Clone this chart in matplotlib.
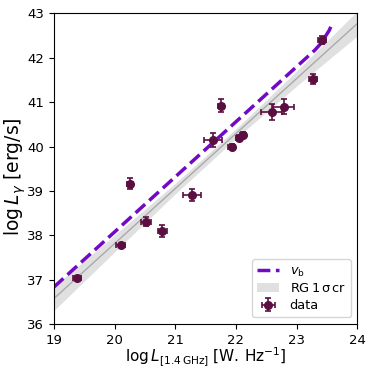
import numpy as np
import matplotlib
matplotlib.use("Agg")
import matplotlib.pyplot as plt

# data points
x_data = [19.38, 20.10, 20.25, 20.52, 20.79, 21.28, 21.62, 21.76, 21.93, 22.05, 22.12, 22.59, 22.79, 23.27, 23.42]
y_data = [37.04, 37.77, 39.16, 38.30, 38.10, 38.91, 40.15, 40.92, 40.00, 40.20, 40.27, 40.77, 40.90, 41.53, 42.40]
x_err = [0.07, 0.07, 0.05, 0.08, 0.07, 0.15, 0.15, 0.05, 0.06, 0.05, 0.05, 0.17, 0.17, 0.07, 0.07]
y_err = [0.04, 0.03, 0.12, 0.10, 0.13, 0.14, 0.16, 0.14, 0.06, 0.06, 0.06, 0.18, 0.17, 0.11, 0.09]

# v_b curve
x_vb = [19.0, 23.30, 23.40, 23.47, 23.54, 23.59]
y_vb = [36.83, 42.17, 42.32, 42.47, 42.62, 42.78]

# regression band
x_rg = [19, 20, 21, 22, 23, 24]
y_rg = [36.57, 37.81, 39.05, 40.29, 41.53, 42.77]
hw_rg = [0.27, 0.19, 0.12, 0.11, 0.17, 0.28]

col_data = '#5b0e40'
col_vb = '#7209c4'

fig = plt.figure(figsize=(3.74, 3.74), dpi=100)
ax = fig.add_axes([0.144, 0.134, 0.811, 0.830])

y_rg_a = np.array(y_rg)
hw_a = np.array(hw_rg)
ax.fill_between(x_rg, y_rg_a - hw_a, y_rg_a + hw_a, color='#d9d9d9', alpha=0.8,
                lw=0, label=r'$\rm RG\,1\,\sigma\,cr$')
ax.plot(x_rg, y_rg, color='#aaaaaa', lw=1.0)
ax.plot(x_vb, y_vb, ls='--', color=col_vb, lw=2.5, label=r'$v_{\rm b}$')
ax.errorbar(x_data, y_data, xerr=x_err, yerr=y_err, fmt='o', color=col_data,
            ms=5.5, capsize=2.5, elinewidth=1.2, capthick=1.2, label='data')

ax.set_xlim(19, 24)
ax.set_ylim(36, 43)
ax.set_xticks([19, 20, 21, 22, 23, 24])
ax.set_yticks([36, 37, 38, 39, 40, 41, 42, 43])
ax.tick_params(labelsize=9.5)
ax.set_xlabel(r'$\log L_{[1.4\,\rm GHz]}\;[\rm W.\,Hz^{-1}]$', fontsize=11)
ax.set_ylabel(r'$\log L_{\gamma}$ [erg/s]', fontsize=13.5)
ax.xaxis.set_label_coords(0.5, -0.07)
ax.yaxis.set_label_coords(-0.086, 0.475)

h, l = ax.get_legend_handles_labels()
order = [l.index(r'$v_{\rm b}$'), l.index(r'$\rm RG\,1\,\sigma\,cr$'), l.index('data')]
ax.legend([h[i] for i in order], [l[i] for i in order], loc='lower right',
          fontsize=9.3, handlelength=1.7, labelspacing=0.3)

fig.savefig('out.png', dpi=100)
